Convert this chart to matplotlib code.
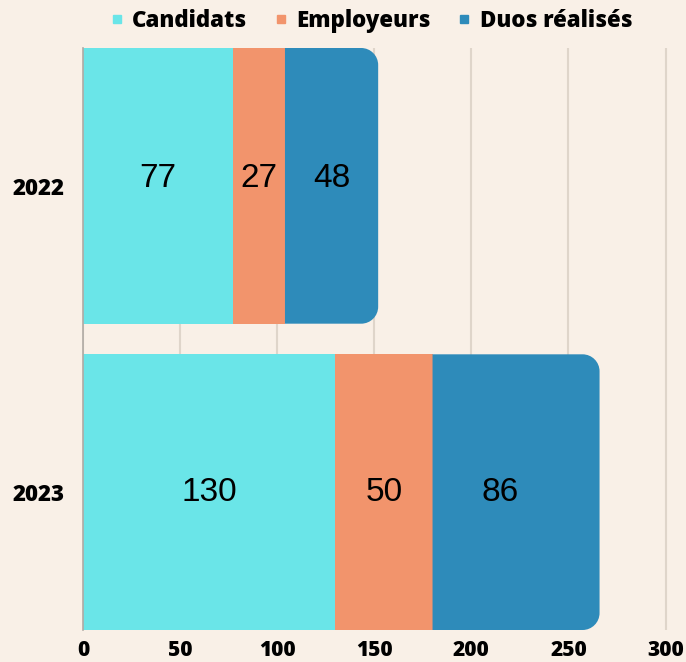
import matplotlib
matplotlib.use("Agg")
import matplotlib.pyplot as plt
from matplotlib.patches import PathPatch
from matplotlib.path import Path
from matplotlib.lines import Line2D
import numpy as np

# data
years = ["2022", "2023"]
series = ["Candidats", "Employeurs", "Duos réalisés"]
candidats = [77, 130]
employeurs = [27, 50]
duos = [48, 86]
colors = ["#6ae5e8", "#f2946c", "#2e8bba"]

bg = "#f9f0e7"
bar_h = 0.9
font_bold = "Open Sans"
weight = 800


def rounded_right(x0, x1, y0, y1, rx, ry):
    # rectangle with the two right corners rounded
    k = 0.5523
    verts = [(x0, y0), (x1 - rx, y0),
             (x1 - rx + k * rx, y0), (x1, y0 + ry - k * ry), (x1, y0 + ry),
             (x1, y1 - ry),
             (x1, y1 - ry + k * ry), (x1 - rx + k * rx, y1), (x1 - rx, y1),
             (x0, y1), (x0, y0)]
    codes = [Path.MOVETO, Path.LINETO,
             Path.CURVE4, Path.CURVE4, Path.CURVE4,
             Path.LINETO,
             Path.CURVE4, Path.CURVE4, Path.CURVE4,
             Path.LINETO, Path.CLOSEPOLY]
    return Path(verts, codes)


fig = plt.figure(figsize=(6.86, 6.62), dpi=100, facecolor=bg)
ax = fig.add_axes([83 / 686, 1 - 630 / 662, 602 / 686, 582 / 662])
ax.set_facecolor(bg)

y = np.arange(len(years))
values = [candidats, employeurs, duos]
left = np.zeros(len(years))

# rounding radius, in pixels, turned into data units
xmax = 310
px_x = 602 / xmax
px_y = 582 / (len(years) - 1 + bar_h)
r_x = 17 / px_x
r_y = 17 / px_y

# small nudges so the labels sit where the original puts them
label_shift = {(1, 2): -8}     # x, data units
label_dy = [5, 0]              # y, points upward

for i, (vals, col) in enumerate(zip(values, colors)):
    vals = np.array(vals, dtype=float)
    if i < len(values) - 1:
        ax.barh(y, vals, left=left, height=bar_h, color=col, zorder=3)
    else:
        for yy, l, w in zip(y, left, vals):
            path = rounded_right(l, l + w, yy - bar_h / 2, yy + bar_h / 2, r_x, r_y)
            ax.add_patch(PathPatch(path, facecolor=col, edgecolor="none", zorder=3))
    for j, (yy, l, w) in enumerate(zip(y, left, vals)):
        ax.annotate(str(int(w)), (l + w / 2 + label_shift.get((j, i), 0), yy),
                    xytext=(0, label_dy[j]), textcoords="offset points",
                    ha="center", va="center", fontsize=24,
                    family="Liberation Sans", color="black", zorder=4)
    left = left + vals

ax.set_xlim(0, xmax)
ax.set_ylim(len(years) - 1 + bar_h / 2, -bar_h / 2)
ax.set_yticks(y)
ax.set_yticklabels(years)
ax.set_xticks(np.arange(0, 301, 50))

for lab in ax.get_yticklabels():
    lab.set_family(font_bold)
    lab.set_fontweight(weight)
    lab.set_fontsize(16)
for lab in ax.get_xticklabels():
    lab.set_family(font_bold)
    lab.set_fontweight(weight)
    lab.set_fontsize(15)
ax.tick_params(axis="y", length=0, pad=13)
ax.tick_params(axis="x", length=0, pad=7)

ax.grid(axis="x", color="#dfd5ca", linewidth=1.5, zorder=0)
ax.set_axisbelow(True)
for s in ["top", "right", "bottom"]:
    ax.spines[s].set_visible(False)
ax.spines["left"].set_color("#b0aaa4")
ax.spines["left"].set_linewidth(1.2)
ax.spines["left"].set_zorder(5)

handles = [Line2D([], [], marker="s", linestyle="none", markersize=6,
                  markerfacecolor=c, markeredgecolor=c) for c in colors]
fig.legend(handles, series, loc="center", bbox_to_anchor=(371 / 686, 1 - 21 / 662),
           ncol=3, frameon=False, handlelength=0.6, handletextpad=0.4,
           columnspacing=1.2, prop={"family": font_bold, "weight": weight, "size": 16})

fig.savefig("out.png", dpi=100, facecolor=bg)
